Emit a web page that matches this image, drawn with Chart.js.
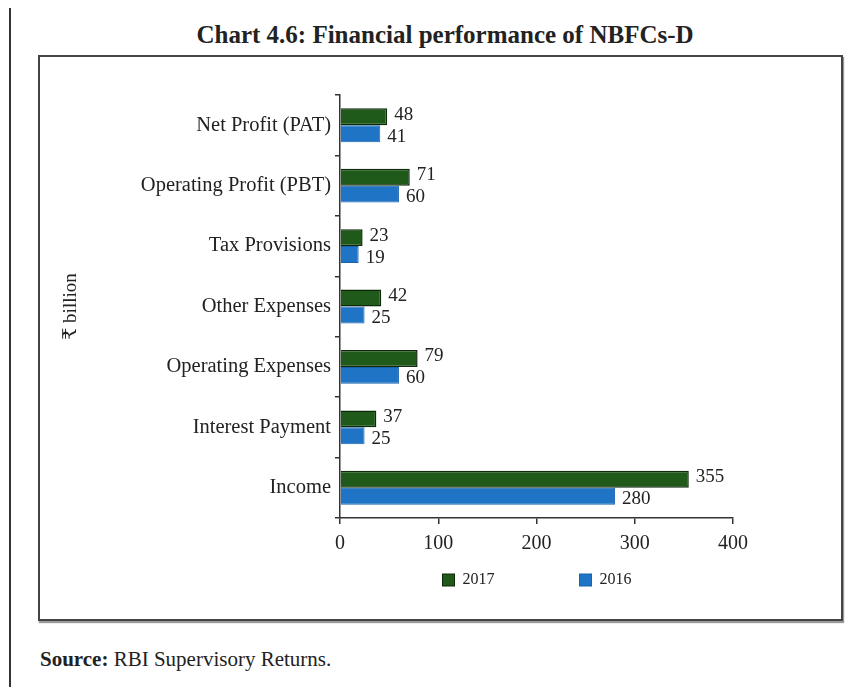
<!DOCTYPE html>
<html>
<head>
<meta charset="utf-8">
<script src="https://cdn.jsdelivr.net/npm/chart.js@4"></script>
<style>
    body { margin: 0; background: #fff; font-family: "Liberation Serif", "DejaVu Serif", serif; }
    #page { position: relative; width: 860px; height: 687px; overflow: hidden; }
    #rule { position: absolute; left: 9px; top: 8px; width: 2px; height: 679px; background: #333; }
    #title { position: absolute; left: 0; width: 890px; top: 21px; text-align: center; font-weight: bold; font-size: 25px; color: #222; }
    #box { position: absolute; left: 38px; top: 55px; width: 801px; height: 562px; border: 2px solid #444; box-shadow: 1px 2px 1px #999; }
    #source { position: absolute; left: 40px; top: 647px; font-size: 21px; color: #222; }
    canvas { position: absolute; left: 0; top: 0; }
</style>
</head>
<body>
<div id="page">
    <div id="rule"></div>
    <div id="title">Chart 4.6: Financial performance of NBFCs-D</div>
    <div id="box"></div>
    <div id="source"><b>Source:</b> RBI Supervisory Returns.</div>
    <canvas id="barChart" width="860" height="687"></canvas>
</div>
<script>
// Data for chart (₹ billion)
const labels = [
    'Net Profit (PAT)', 'Operating Profit (PBT)', 'Tax Provisions',
    'Other Expenses', 'Operating Expenses', 'Interest Payment', 'Income'
];
const values2017 = [48, 71, 23, 42, 79, 37, 355];
const values2016 = [41, 60, 19, 25, 60, 25, 280];
const xTicks = [0, 100, 200, 300, 400];

const serif = '"Liberation Serif", "DejaVu Serif", serif';

// Value labels at the end of every bar
const barValues = {
    id: 'barValues',
    afterDatasetsDraw(chart) {
        const ctx = chart.ctx;
        ctx.save();
        ctx.font = '19px ' + serif;
        ctx.fillStyle = '#222';
        ctx.textBaseline = 'middle';
        chart.data.datasets.forEach((ds, i) => {
            chart.getDatasetMeta(i).data.forEach((bar, j) => {
                const dy = i === 0 ? -2 : 3;
                ctx.fillText(ds.data[j], bar.x + 7, bar.y + dy);
            });
        });
        ctx.restore();
    }
};

// Legend under the x axis, centred on the plot area
const bottomLegend = {
    id: 'bottomLegend',
    afterDraw(chart) {
        const ctx = chart.ctx;
        const area = chart.chartArea;
        const cx = (area.left + area.right) / 2 + 4;
        const y = 580;
        const xs = [cx - 98, cx + 39];
        ctx.save();
        ctx.font = '16px ' + serif;
        ctx.textBaseline = 'middle';
        chart.data.datasets.forEach((ds, i) => {
            ctx.fillStyle = ds.backgroundColor;
            ctx.strokeStyle = ds.borderColor;
            ctx.lineWidth = 1;
            ctx.fillRect(xs[i], y - 6, 12, 12);
            ctx.strokeRect(xs[i], y - 6, 12, 12);
            ctx.fillStyle = '#222';
            ctx.fillText(ds.label, xs[i] + 20, y);
        });
        ctx.restore();
    }
};

new Chart(document.getElementById('barChart').getContext('2d'), {
    type: 'bar',
    data: {
        labels: labels,
        datasets: [{
            label: '2017',
            data: values2017,
            backgroundColor: '#1f5a1b',
            borderColor: '#0c2a0a',
            borderWidth: 1.5
        }, {
            label: '2016',
            data: values2016,
            backgroundColor: '#1f74c6',
            borderColor: '#1a62aa',
            borderWidth: 1
        }]
    },
    options: {
        indexAxis: 'y',
        responsive: false,
        animation: false,
        datasets: { bar: { categoryPercentage: 0.56, barPercentage: 1 } },
        layout: { padding: { left: 60, right: 127, top: 95, bottom: 129 } },
        plugins: {
            legend: { display: false },
            tooltip: { enabled: false }
        },
        scales: {
            x: {
                min: 0,
                max: 400,
                afterBuildTicks: (scale) => { scale.ticks = xTicks.map(v => ({ value: v })); },
                afterFit: (scale) => { scale.height = 40; },
                border: { color: '#333', width: 1.5 },
                grid: { drawOnChartArea: false, color: '#333', tickLength: 6, lineWidth: 1.5 },
                ticks: { color: '#222', font: { family: serif, size: 20 }, padding: 8 }
            },
            y: {
                afterFit: (scale) => { scale.width = 280; },
                border: { color: '#333', width: 1.5 },
                grid: { drawOnChartArea: false, color: '#333', tickLength: 5, lineWidth: 1.5 },
                ticks: { color: '#222', font: { family: serif, size: 20.5 }, padding: 4 },
                title: {
                    display: true,
                    text: '₹ billion',
                    color: '#222',
                    font: { family: serif, size: 19 },
                    padding: 0
                }
            }
        }
    },
    plugins: [barValues, bottomLegend]
});
</script>
</body>
</html>
